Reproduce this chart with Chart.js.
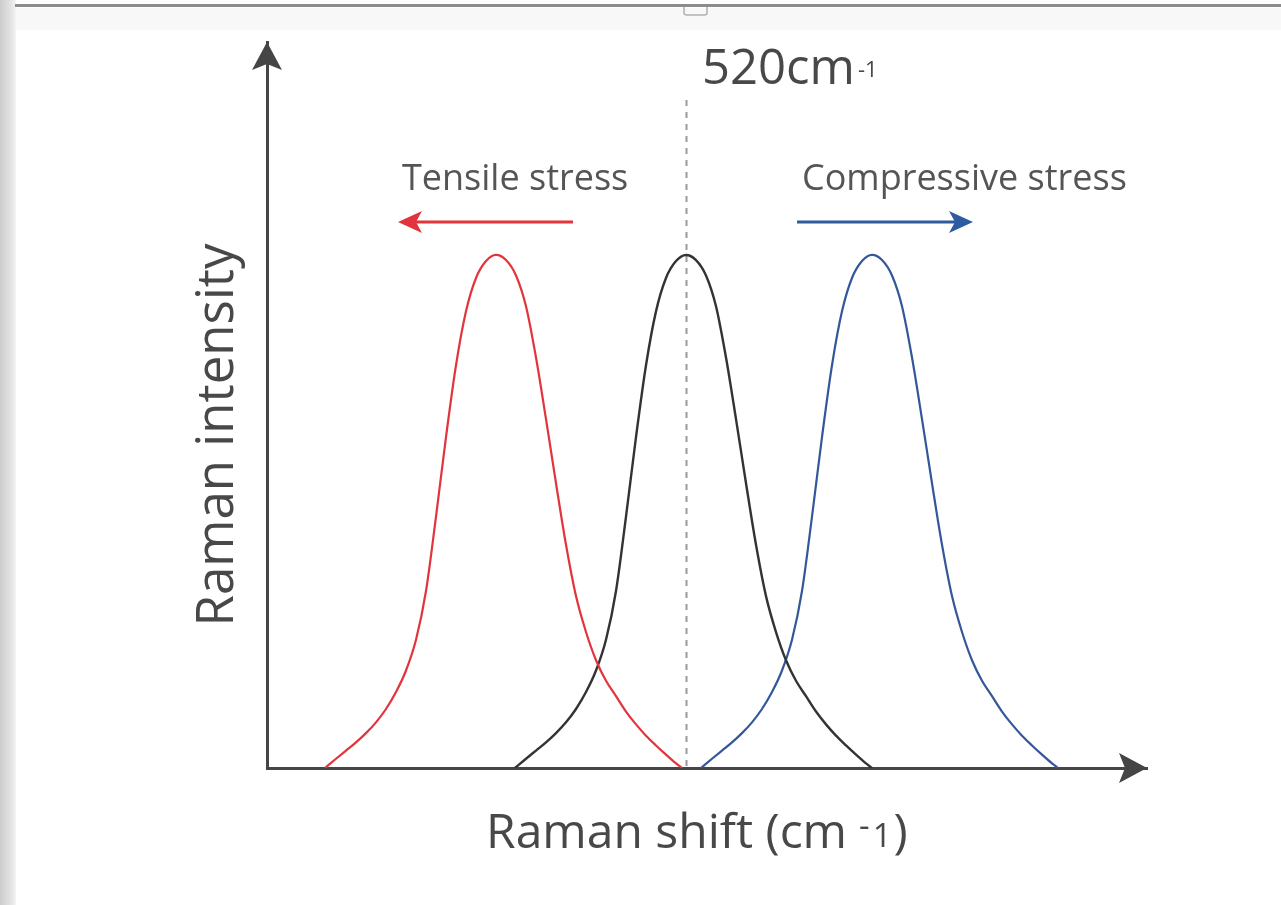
<!DOCTYPE html>
<html>
<head>
<meta charset="utf-8">
<script src="https://cdn.jsdelivr.net/npm/chart.js@4.4.1/dist/chart.umd.min.js"></script>
<style>
  html, body { margin: 0; padding: 0; background: #ffffff; }
  #wrap { position: relative; width: 1281px; height: 905px; }
</style>
</head>
<body>
<div id="wrap"><canvas id="c"></canvas></div>
<script>
// ---- Data ----
const redShift = [501.95, 502.5, 503.0, 503.5, 504.0, 504.5, 505.0, 505.5, 506.0, 506.5, 507.0, 507.5, 508.0, 508.5, 509.0, 509.5, 510.0, 510.5,
                  511.0, 511.5, 512.0, 512.5, 513.0, 513.5, 514.0, 514.5, 515.0, 515.5, 516.0, 516.5, 517.0, 517.5, 518.0, 518.5, 519.0, 519.5, 519.8];
const redIntensity = [0, 0.018, 0.034, 0.050, 0.068, 0.089, 0.115, 0.148, 0.19, 0.25, 0.345, 0.49, 0.645, 0.785, 0.89, 0.955, 0.988, 1,
                      0.99, 0.96, 0.90, 0.80, 0.68, 0.555, 0.435, 0.335, 0.265, 0.21, 0.17, 0.14, 0.11, 0.085, 0.063, 0.044, 0.026, 0.009, 0];
const blackShift = [511.45, 512.0, 512.5, 513.0, 513.5, 514.0, 514.5, 515.0, 515.5, 516.0, 516.5, 517.0, 517.5, 518.0, 518.5, 519.0, 519.5, 520.0,
                    520.5, 521.0, 521.5, 522.0, 522.5, 523.0, 523.5, 524.0, 524.5, 525.0, 525.5, 526.0, 526.5, 527.0, 527.5, 528.0, 528.5, 529.0, 529.3];
const blackIntensity = [0, 0.018, 0.034, 0.050, 0.068, 0.089, 0.115, 0.148, 0.19, 0.25, 0.345, 0.49, 0.645, 0.785, 0.89, 0.955, 0.988, 1,
                        0.99, 0.96, 0.90, 0.80, 0.68, 0.555, 0.435, 0.335, 0.265, 0.21, 0.17, 0.14, 0.11, 0.085, 0.063, 0.044, 0.026, 0.009, 0];
const blueShift = [520.75, 521.3, 521.8, 522.3, 522.8, 523.3, 523.8, 524.3, 524.8, 525.3, 525.8, 526.3, 526.8, 527.3, 527.8, 528.3, 528.8, 529.3,
                   529.8, 530.3, 530.8, 531.3, 531.8, 532.3, 532.8, 533.3, 533.8, 534.3, 534.8, 535.3, 535.8, 536.3, 536.8, 537.3, 537.8, 538.3, 538.6];
const blueIntensity = [0, 0.018, 0.034, 0.050, 0.068, 0.089, 0.115, 0.148, 0.19, 0.25, 0.345, 0.49, 0.645, 0.785, 0.89, 0.955, 0.988, 1,
                       0.99, 0.96, 0.90, 0.80, 0.68, 0.555, 0.435, 0.335, 0.265, 0.21, 0.17, 0.14, 0.11, 0.085, 0.063, 0.044, 0.026, 0.009, 0];

const referenceShift = 520;
const xRange = [499.05, 543.05];
const yRange = [0, 1.415];

const labels = {
  reference: '520cm',
  referenceSup: '-1',
  tensile: 'Tensile stress',
  compressive: 'Compressive stress',
  xTitle: 'Raman shift (cm',
  xTitleMinus: '-',
  xTitleOne: '1',
  xTitleEnd: ')',
  yTitle: 'Raman intensity'
};

function pts(xs, ys) { return xs.map((x, i) => ({ x: x, y: ys[i] })); }

const FONT = '"Open Sans", "Noto Sans", "DejaVu Sans", sans-serif';
const AXIS_COLOR = '#454545';
const TEXT_COLOR = '#484848';

const decor = {
  id: 'decor',
  beforeDraw(chart) {
    const ctx = chart.ctx;
    ctx.save();
    ctx.fillStyle = '#ffffff';
    ctx.fillRect(0, 0, chart.width, chart.height);
    const g = ctx.createLinearGradient(0, 0, 16, 0);
    g.addColorStop(0, '#cdcdcd');
    g.addColorStop(0.7, '#e4e4e4');
    g.addColorStop(1, '#f4f4f4');
    ctx.fillStyle = g;
    ctx.fillRect(0, 0, 16, chart.height);
    ctx.fillStyle = '#f8f8f8';
    ctx.fillRect(16, 8, chart.width - 16, 22);
    ctx.fillStyle = '#8c8c8c';
    ctx.fillRect(15, 4, chart.width - 15, 3);
    ctx.strokeStyle = '#b0b0b0';
    ctx.lineWidth = 1.5;
    ctx.beginPath();
    ctx.moveTo(684, 7); ctx.lineTo(684, 13); ctx.quadraticCurveTo(684, 15, 687, 15);
    ctx.lineTo(704, 15); ctx.quadraticCurveTo(707, 15, 707, 13); ctx.lineTo(707, 7);
    ctx.stroke();
    ctx.restore();
  },
  beforeDatasetsDraw(chart) {
    const ctx = chart.ctx;
    const xs = chart.scales.x, ys = chart.scales.y;
    const px = Math.round(xs.getPixelForValue(referenceShift)) + 0.5;
    ctx.save();
    ctx.strokeStyle = '#999999';
    ctx.lineWidth = 2;
    ctx.setLineDash([6, 6]);
    ctx.beginPath();
    ctx.moveTo(px, 100);
    ctx.lineTo(px, ys.getPixelForValue(0));
    ctx.stroke();
    ctx.restore();
  },
  afterDraw(chart) {
    const ctx = chart.ctx;
    const xs = chart.scales.x, ys = chart.scales.y;
    const x0 = xs.getPixelForValue(xRange[0]);
    const x1 = xs.getPixelForValue(xRange[1]);
    const y0 = ys.getPixelForValue(0);
    const yTop = ys.getPixelForValue(yRange[1]);
    ctx.save();
    ctx.fillStyle = AXIS_COLOR;
    ctx.beginPath();
    ctx.moveTo(x0, yTop);
    ctx.lineTo(x0 + 15, yTop + 28);
    ctx.lineTo(x0, yTop + 22);
    ctx.lineTo(x0 - 15, yTop + 28);
    ctx.closePath();
    ctx.fill();
    ctx.beginPath();
    ctx.moveTo(x1, y0);
    ctx.lineTo(x1 - 28, y0 - 15);
    ctx.lineTo(x1 - 22, y0);
    ctx.lineTo(x1 - 28, y0 + 15);
    ctx.closePath();
    ctx.fill();

    function arrow(xa, xb, y, color) {
      const dir = Math.sign(xb - xa);
      ctx.strokeStyle = color;
      ctx.fillStyle = color;
      ctx.lineWidth = 3;
      ctx.beginPath();
      ctx.moveTo(xa, y);
      ctx.lineTo(xb - dir * 14, y);
      ctx.stroke();
      ctx.beginPath();
      ctx.moveTo(xb, y);
      ctx.lineTo(xb - dir * 24, y - 11);
      ctx.lineTo(xb - dir * 18, y);
      ctx.lineTo(xb - dir * 24, y + 11);
      ctx.closePath();
      ctx.fill();
    }
    arrow(573, 398, 222, '#e2343c');
    arrow(797, 973, 222, '#2f5b9f');

    ctx.fillStyle = TEXT_COLOR;
    ctx.textBaseline = 'alphabetic';
    ctx.textAlign = 'left';
    ctx.font = '49px ' + FONT;
    ctx.fillText(labels.reference, 702, 84);
    const w520 = ctx.measureText(labels.reference).width;
    ctx.font = '22px ' + FONT;
    ctx.fillText(labels.referenceSup, 702 + w520 + 3, 77);

    ctx.fillStyle = '#555555';
    ctx.font = '36px ' + FONT;
    ctx.fillText(labels.tensile, 402, 190);
    ctx.fillText(labels.compressive, 802, 190);

    ctx.fillStyle = TEXT_COLOR;
    ctx.font = '48px ' + FONT;
    ctx.fillText(labels.xTitle, 486, 848);
    const wx = ctx.measureText(labels.xTitle).width;
    let cx = 486 + wx + 12;
    ctx.font = '33px ' + FONT;
    ctx.fillText(labels.xTitleMinus, cx, 837);
    cx += ctx.measureText(labels.xTitleMinus).width + 3;
    ctx.fillText(labels.xTitleOne, cx, 847);
    cx += ctx.measureText(labels.xTitleOne).width + 2;
    ctx.font = '48px ' + FONT;
    ctx.fillText(labels.xTitleEnd, cx, 848);

    ctx.translate(233, 435);
    ctx.rotate(-Math.PI / 2);
    ctx.textAlign = 'center';
    ctx.font = '51px ' + FONT;
    ctx.fillText(labels.yTitle, 0, 0);
    ctx.restore();
  }
};

new Chart(document.getElementById('c'), {
  type: 'line',
  data: {
    datasets: [
      { label: 'Tensile', data: pts(redShift, redIntensity), borderColor: '#e2343c', borderWidth: 2.2 },
      { label: 'Reference', data: pts(blackShift, blackIntensity), borderColor: '#333333', borderWidth: 2.4 },
      { label: 'Compressive', data: pts(blueShift, blueIntensity), borderColor: '#34579a', borderWidth: 2.2 }
    ]
  },
  options: {
    responsive: true,
    maintainAspectRatio: false,
    animation: false,
    devicePixelRatio: 1,
    layout: { padding: { left: 267, right: 134, top: 42, bottom: 137 } },
    elements: {
      point: { radius: 0 },
      line: { cubicInterpolationMode: 'monotone', fill: false }
    },
    plugins: { legend: { display: false }, tooltip: { enabled: false }, title: { display: false } },
    scales: {
      x: {
        type: 'linear', min: xRange[0], max: xRange[1],
        ticks: { display: false }, grid: { display: false, drawTicks: false },
        border: { display: true, color: AXIS_COLOR, width: 3 },
        afterFit(s) { s.height = 0; }
      },
      y: {
        type: 'linear', min: yRange[0], max: yRange[1],
        ticks: { display: false }, grid: { display: false, drawTicks: false },
        border: { display: true, color: AXIS_COLOR, width: 3 },
        afterFit(s) { s.width = 0; }
      }
    }
  },
  plugins: [decor]
});
</script>
</body>
</html>
